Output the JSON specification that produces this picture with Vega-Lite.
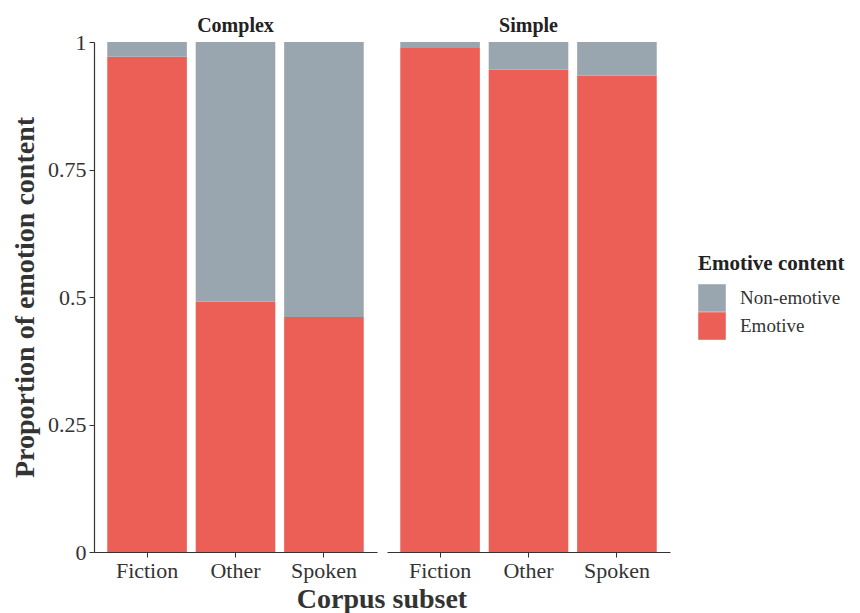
{
  "$schema": "https://vega.github.io/schema/vega-lite/v6.json",
  "padding": {"left": 11, "top": 16, "right": 5, "bottom": 0},
  "background": "white",
  "data": {"values": [
    {"complexity": "Complex", "subset": "Fiction", "content": "Emotive", "prop": 0.971, "ord": 1},
    {"complexity": "Complex", "subset": "Fiction", "content": "Non-emotive", "prop": 0.029, "ord": 2},
    {"complexity": "Complex", "subset": "Other", "content": "Emotive", "prop": 0.491, "ord": 1},
    {"complexity": "Complex", "subset": "Other", "content": "Non-emotive", "prop": 0.509, "ord": 2},
    {"complexity": "Complex", "subset": "Spoken", "content": "Emotive", "prop": 0.461, "ord": 1},
    {"complexity": "Complex", "subset": "Spoken", "content": "Non-emotive", "prop": 0.539, "ord": 2},
    {"complexity": "Simple", "subset": "Fiction", "content": "Emotive", "prop": 0.988, "ord": 1},
    {"complexity": "Simple", "subset": "Fiction", "content": "Non-emotive", "prop": 0.012, "ord": 2},
    {"complexity": "Simple", "subset": "Other", "content": "Emotive", "prop": 0.946, "ord": 1},
    {"complexity": "Simple", "subset": "Other", "content": "Non-emotive", "prop": 0.054, "ord": 2},
    {"complexity": "Simple", "subset": "Spoken", "content": "Emotive", "prop": 0.934, "ord": 1},
    {"complexity": "Simple", "subset": "Spoken", "content": "Non-emotive", "prop": 0.066, "ord": 2}
  ]},
  "facet": {
    "column": {
      "field": "complexity",
      "type": "nominal",
      "title": "Corpus subset",
      "header": {
        "labelOrient": "top",
        "titleOrient": "bottom",
        "labelFont": "Liberation Serif",
        "labelFontSize": 20,
        "labelFontWeight": "bold",
        "labelColor": "#222222",
        "labelPadding": 6,
        "titleFont": "Liberation Serif",
        "titleFontSize": 28,
        "titleFontWeight": "bold",
        "titleColor": "#333333",
        "titlePadding": -5
      }
    }
  },
  "spacing": 10,
  "spec": {
    "width": 283,
    "height": 510,
    "mark": {"type": "bar", "stroke": null},
    "encoding": {
      "x": {
        "field": "subset",
        "type": "nominal",
        "title": null,
        "scale": {"paddingInner": 0.1, "paddingOuter": 0.15},
        "axis": {"labelAngle": 0}
      },
      "y": {
        "field": "prop",
        "type": "quantitative",
        "stack": "zero",
        "title": "Proportion of emotion content",
        "scale": {"domain": [0, 1], "nice": false},
        "axis": {"values": [0, 0.25, 0.5, 0.75, 1], "format": ".2~f"}
      },
      "color": {
        "field": "content",
        "type": "nominal",
        "title": "Emotive content",
        "scale": {"domain": ["Non-emotive", "Emotive"], "range": ["#9AA6AF", "#EB5F56"]},
        "legend": {"orient": "none", "legendX": 604, "legendY": 211}
      },
      "order": {"field": "ord", "type": "quantitative"}
    }
  },
  "config": {
    "view": {"stroke": null},
    "axis": {
      "grid": false,
      "domainColor": "#333333",
      "domainWidth": 1.2,
      "tickColor": "#333333",
      "tickSize": 5,
      "labelFont": "Liberation Serif",
      "labelFontSize": 22,
      "labelColor": "#333333",
      "labelPadding": 3,
      "titleFont": "Liberation Serif",
      "titleFontSize": 28,
      "titleFontWeight": "bold",
      "titleColor": "#333333",
      "titlePadding": 8
    },
    "legend": {
      "titleFont": "Liberation Serif",
      "titleFontSize": 21,
      "titleFontWeight": "bold",
      "titleColor": "#222222",
      "titlePadding": 10,
      "labelFont": "Liberation Serif",
      "labelFontSize": 19,
      "labelColor": "#333333",
      "symbolType": "square",
      "symbolSize": 760,
      "symbolStrokeWidth": 0,
      "symbolOpacity": 1,
      "rowPadding": 0,
      "labelOffset": 14
    }
  }
}
